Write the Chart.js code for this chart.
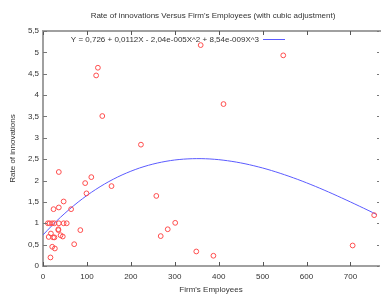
<!DOCTYPE html>
<html>
<head>
<meta charset="utf-8">
<script src="https://cdn.jsdelivr.net/npm/chart.js@4.4.1/dist/chart.umd.min.js"></script>
<style>
  html, body { margin: 0; padding: 0; background: #ffffff; }
  #wrap { width: 384px; height: 296px; }
</style>
</head>
<body>
<div id="wrap"><canvas id="c" width="384" height="296"></canvas></div>
<script>
// Observed data: firm's employees vs rate of innovations
const employees = [96, 99, 156, 47, 24, 36, 64, 11, 15, 21, 26, 36, 47, 54, 35, 35, 18, 13, 23, 26, 40, 45, 85, 71, 21, 27, 17, 36, 110, 125, 121, 135, 223, 359, 547, 411, 258, 301, 284, 268, 349, 388, 705, 754];
const innovations = [1.94, 1.70, 1.87, 1.51, 1.33, 1.37, 1.33, 1.00, 1.00, 1.00, 1.00, 1.00, 1.00, 1.00, 0.86, 0.84, 0.76, 0.68, 0.67, 0.67, 0.72, 0.69, 0.84, 0.51, 0.45, 0.41, 0.20, 2.20, 2.08, 4.64, 4.46, 3.51, 2.84, 5.17, 4.93, 3.79, 1.64, 1.01, 0.86, 0.70, 0.34, 0.24, 0.48, 1.19];

// Cubic adjustment curve
const curveX = [0, 20, 40, 60, 80, 100, 120, 140, 160, 180, 200, 220, 240, 260, 280, 300, 320, 340, 360, 380, 400, 420, 440, 460, 480, 500, 520, 540, 560, 580, 600, 620, 640, 660, 680, 700, 720, 740, 760];
const curveY = [0.726, 0.942, 1.142, 1.326, 1.496, 1.651, 1.791, 1.918, 2.031, 2.131, 2.218, 2.294, 2.357, 2.409, 2.450, 2.481, 2.501, 2.511, 2.513, 2.505, 2.489, 2.464, 2.432, 2.393, 2.346, 2.294, 2.235, 2.170, 2.100, 2.026, 1.947, 1.864, 1.777, 1.687, 1.594, 1.499, 1.402, 1.304, 1.204];

const xTicks = [0, 100, 200, 300, 400, 500, 600, 700];
const yTicks = [0, 0.5, 1, 1.5, 2, 2.5, 3, 3.5, 4, 4.5, 5, 5.5];

const titleText = "Rate of innovations Versus Firm's Employees (with cubic adjustment)";
const keyText = "Y = 0,726 + 0,0112X - 2,04e-005X^2 + 8,54e-009X^3";
const xLabel = "Firm's Employees";
const yLabel = "Rate of innovations";

const FONT = "'Liberation Sans', Arial, sans-serif";
const AXIS_GRAY = '#a0a0a0';
const TEXT = '#333333';
const PT_RED = '#ff4d4d';
const LINE_BLUE = '#5b5bff';

const decor = {
  id: 'decor',
  afterDraw(chart) {
    const ctx = chart.ctx;
    const a = chart.chartArea;
    const xs = chart.scales.x, ys = chart.scales.y;
    ctx.save();
    // top border
    ctx.strokeStyle = AXIS_GRAY;
    ctx.lineWidth = 2;
    ctx.beginPath();
    ctx.moveTo(a.left, a.top);
    ctx.lineTo(a.right + 2, a.top);
    ctx.stroke();
    // inward ticks
    ctx.lineWidth = 1;
    ctx.strokeStyle = '#555555';
    xTicks.forEach(v => {
      const px = Math.round(xs.getPixelForValue(v)) + 0.5;
      ctx.beginPath(); ctx.moveTo(px, a.bottom); ctx.lineTo(px, a.bottom - 4); ctx.stroke();
      ctx.beginPath(); ctx.moveTo(px, a.top); ctx.lineTo(px, a.top + 4); ctx.stroke();
    });
    ctx.strokeStyle = '#777777';
    yTicks.forEach(v => {
      const py = Math.round(ys.getPixelForValue(v)) + 0.5;
      ctx.beginPath(); ctx.moveTo(a.left, py); ctx.lineTo(a.left + 4, py); ctx.stroke();
      ctx.beginPath(); ctx.moveTo(a.right, py); ctx.lineTo(a.right - 2, py); ctx.stroke();
    });
    // title
    ctx.fillStyle = TEXT;
    ctx.font = '8px ' + FONT;
    ctx.textAlign = 'center';
    ctx.textBaseline = 'middle';
    ctx.fillText(titleText, (a.left + a.right) / 2 + 2, 16);
    // key
    ctx.textAlign = 'right';
    ctx.fillText(keyText, 259, 40);
    ctx.strokeStyle = LINE_BLUE;
    ctx.lineWidth = 1;
    ctx.beginPath(); ctx.moveTo(263, 39.5); ctx.lineTo(285, 39.5); ctx.stroke();
    ctx.restore();
  }
};

const points = employees.map((x, i) => ({ x: x, y: innovations[i] }));
const curve = curveX.map((x, i) => ({ x: x, y: curveY[i] }));

new Chart(document.getElementById('c'), {
  type: 'scatter',
  data: {
    datasets: [
      {
        label: 'observations',
        data: points,
        pointStyle: 'circle',
        pointRadius: 2.4,
        pointBorderWidth: 1,
        borderColor: PT_RED,
        backgroundColor: 'rgba(0,0,0,0)',
        order: 1
      },
      {
        label: keyText,
        type: 'line',
        data: curve,
        borderColor: LINE_BLUE,
        borderWidth: 1,
        pointRadius: 0,
        tension: 0.3,
        fill: false,
        order: 2
      }
    ]
  },
  options: {
    responsive: false,
    animation: false,
    devicePixelRatio: 1,
    layout: { padding: { top: 31, right: 0, left: 0, bottom: 0 } },
    plugins: {
      legend: { display: false },
      title: { display: false },
      tooltip: { enabled: false }
    },
    scales: {
      x: {
        type: 'linear',
        min: 0,
        max: 765,
        afterFit(s) { s.height = 30; },
        afterBuildTicks(s) { s.ticks = xTicks.map(v => ({ value: v })); },
        grid: { display: false, drawTicks: false },
        border: { display: true, color: AXIS_GRAY, width: 2 },
        ticks: { color: TEXT, font: { family: FONT, size: 8 }, padding: 6, maxRotation: 0 },
        title: { display: true, text: xLabel, color: TEXT, font: { family: FONT, size: 8 }, padding: { top: 0, bottom: 1 } }
      },
      y: {
        type: 'linear',
        min: 0,
        max: 5.5,
        afterFit(s) { s.width = 43; },
        afterBuildTicks(s) { s.ticks = yTicks.map(v => ({ value: v })); },
        grid: { display: false, drawTicks: false },
        border: { display: true, color: AXIS_GRAY, width: 2 },
        ticks: {
          color: TEXT, font: { family: FONT, size: 8 }, padding: 4,
          callback: v => String(v).replace('.', ',')
        },
        title: { display: true, text: yLabel, color: TEXT, font: { family: FONT, size: 8 }, padding: { top: 8, bottom: 0 } }
      }
    }
  },
  plugins: [decor]
});
</script>
</body>
</html>
